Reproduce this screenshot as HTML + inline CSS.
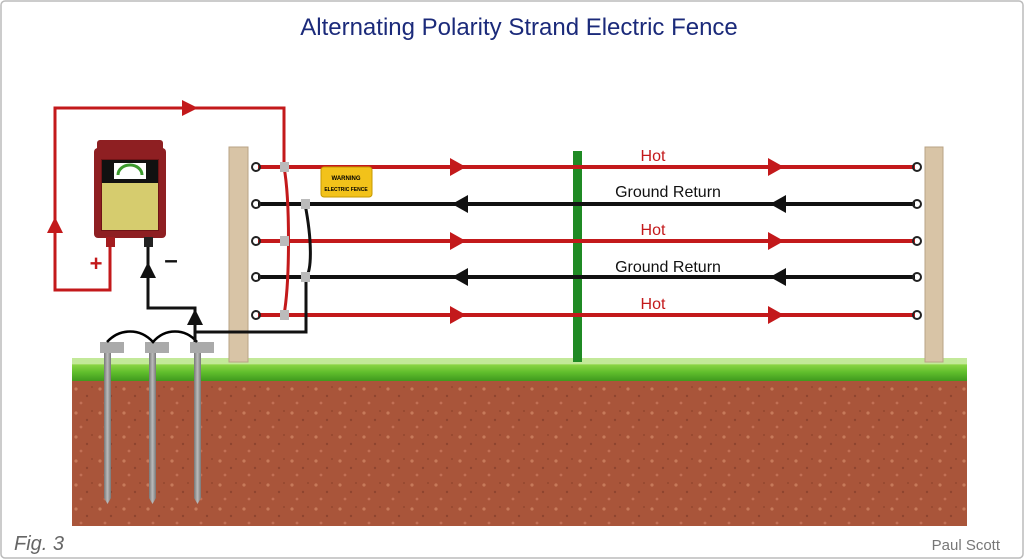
<!DOCTYPE html>
<html><head><meta charset="utf-8"><style>
html,body{margin:0;padding:0;background:#fff}
svg{display:block}
text{font-family:"Liberation Sans",sans-serif}
</style></head><body>
<svg width="1024" height="559" viewBox="0 0 1024 559" xmlns="http://www.w3.org/2000/svg">
<defs>
<pattern id="soil" width="24" height="24" patternUnits="userSpaceOnUse">
<rect width="24" height="24" fill="#a9553a"/>
<circle cx="4" cy="5" r="1.6" fill="#c77a5a"/>
<circle cx="15" cy="12" r="1.2" fill="#8f4530"/>
<circle cx="9" cy="19" r="1.4" fill="#c27055"/>
<circle cx="20" cy="3" r="1" fill="#94482f"/>
</pattern>
<linearGradient id="grass" x1="0" y1="0" x2="0" y2="1">
<stop offset="0" stop-color="#8ed646"/><stop offset="0.5" stop-color="#5fbd2c"/><stop offset="1" stop-color="#3f9a1e"/>
</linearGradient>
<linearGradient id="rod" x1="0" x2="1"><stop offset="0" stop-color="#777"/><stop offset=".5" stop-color="#bbb"/><stop offset="1" stop-color="#777"/></linearGradient>
</defs>
<rect x="1" y="1" width="1022" height="557" rx="4" fill="#fff" stroke="#bbb" stroke-width="1.5"/>
<text x="519" y="35" font-size="24" fill="#1b2a7a" text-anchor="middle">Alternating Polarity Strand Electric Fence</text>

<!-- soil and grass -->
<rect x="72" y="378" width="895" height="148" fill="url(#soil)"/>
<rect x="72" y="364" width="895" height="17" fill="url(#grass)"/>
<rect x="72" y="358" width="895" height="7" fill="#a9df6e" opacity=".7"/>

<!-- ground rods -->
<g fill="url(#rod)">
<path d="M104 350h7v148l-3.5 6l-3.5-6z"/>
<path d="M149 350h7v148l-3.5 6l-3.5-6z"/>
<path d="M194 350h7v148l-3.5 6l-3.5-6z"/>
</g>
<g fill="#aaa">
<rect x="100" y="342" width="24" height="11"/><rect x="145" y="342" width="24" height="11"/><rect x="190" y="342" width="24" height="11"/>
</g>
<path d="M107 342 C120 328,140 328,153 342 C165 328,185 328,197 342" fill="none" stroke="#000" stroke-width="2.5"/>

<!-- posts -->
<rect x="229" y="147" width="19" height="215" fill="#d8c4a6" stroke="#b9a385" stroke-width="1"/>
<rect x="925" y="147" width="18" height="215" fill="#d8c4a6" stroke="#b9a385" stroke-width="1"/>
<rect x="573" y="151" width="9" height="211" fill="#1f8a24"/>

<!-- wires -->
<g stroke-width="4">
<line x1="258" y1="167" x2="915" y2="167" stroke="#c3191b"/>
<line x1="258" y1="204" x2="915" y2="204" stroke="#111"/>
<line x1="258" y1="241" x2="915" y2="241" stroke="#c3191b"/>
<line x1="258" y1="277" x2="915" y2="277" stroke="#111"/>
<line x1="258" y1="315" x2="915" y2="315" stroke="#c3191b"/>
</g>
<!-- insulators -->
<g fill="none" stroke="#222" stroke-width="2">
<circle cx="256" cy="167" r="4"/><circle cx="256" cy="204" r="4"/><circle cx="256" cy="241" r="4"/><circle cx="256" cy="277" r="4"/><circle cx="256" cy="315" r="4"/>
<circle cx="917" cy="167" r="4"/><circle cx="917" cy="204" r="4"/><circle cx="917" cy="241" r="4"/><circle cx="917" cy="277" r="4"/><circle cx="917" cy="315" r="4"/>
</g>
<!-- arrowheads -->
<g fill="#c3191b">
<path d="M450 158l16 9l-16 9z"/><path d="M768 158l16 9l-16 9z"/>
<path d="M450 232l16 9l-16 9z"/><path d="M768 232l16 9l-16 9z"/>
<path d="M450 306l16 9l-16 9z"/><path d="M768 306l16 9l-16 9z"/>
</g>
<g fill="#111">
<path d="M468 195l-16 9l16 9z"/><path d="M786 195l-16 9l16 9z"/>
<path d="M468 268l-16 9l16 9z"/><path d="M786 268l-16 9l16 9z"/>
</g>
<g font-size="16">
<text x="653" y="161" fill="#c3191b" text-anchor="middle">Hot</text>
<text x="668" y="197" fill="#111" text-anchor="middle">Ground Return</text>
<text x="653" y="235" fill="#c3191b" text-anchor="middle">Hot</text>
<text x="668" y="272" fill="#111" text-anchor="middle">Ground Return</text>
<text x="653" y="309" fill="#c3191b" text-anchor="middle">Hot</text>
</g>

<!-- warning sign -->
<rect x="321" y="167" width="51" height="30" rx="3" fill="#f2c21a" stroke="#c79a00"/>
<text x="346" y="180" font-size="6" font-weight="bold" text-anchor="middle">WARNING</text>
<text x="346" y="191" font-size="5" font-weight="bold" text-anchor="middle">ELECTRIC FENCE</text>

<!-- red hot loop and connector -->
<path d="M110 246 V290 H55 V108 H284 V167" fill="none" stroke="#c3191b" stroke-width="3"/>
<path d="M284 167 C290 200,290 280,284 315" fill="none" stroke="#c3191b" stroke-width="3"/>
<path d="M182 100l16 8l-16 8z" fill="#c3191b"/>
<path d="M47 233l8-16l8 16z" fill="#c3191b"/>
<text x="96" y="271" font-size="22" font-weight="bold" fill="#c3191b" text-anchor="middle">+</text>

<!-- black ground connector -->
<path d="M305 204 C312 240,312 270,306 277 V332 H195 V342" fill="none" stroke="#111" stroke-width="3"/>
<path d="M148 246 V308 H195 V332" fill="none" stroke="#111" stroke-width="3"/>
<path d="M140 278l8-16l8 16z" fill="#111"/>
<path d="M187 325l8-16l8 16z" fill="#111"/>
<text x="171" y="268" font-size="24" font-weight="bold" fill="#111" text-anchor="middle">–</text>

<!-- clips -->
<g fill="#bbb">
<rect x="280" y="162" width="9" height="10"/><rect x="280" y="236" width="9" height="10"/><rect x="280" y="310" width="9" height="10"/>
<rect x="301" y="199" width="9" height="10"/><rect x="301" y="272" width="9" height="10"/>
</g>

<!-- energizer -->
<rect x="97" y="140" width="66" height="14" rx="3" fill="#8e1f22"/>
<rect x="94" y="148" width="72" height="90" rx="4" fill="#8e1f22"/>
<rect x="101" y="159" width="58" height="72" fill="#6e1416"/>
<rect x="102" y="160" width="56" height="23" fill="#111"/>
<rect x="114" y="163" width="32" height="16" fill="#fff"/>
<path d="M118 175 a12 10 0 0 1 24 0" fill="none" stroke="#3c9a2e" stroke-width="3"/>
<rect x="102" y="183" width="56" height="47" fill="#d6cc6e"/>
<rect x="106" y="237" width="9" height="10" fill="#a31c1f"/>
<rect x="144" y="237" width="9" height="10" fill="#222"/>

<text x="14" y="550" font-size="20" font-style="italic" fill="#666">Fig. 3</text>
<text x="1000" y="550" font-size="15" fill="#777" text-anchor="end">Paul Scott</text>
</svg>
</body></html>
